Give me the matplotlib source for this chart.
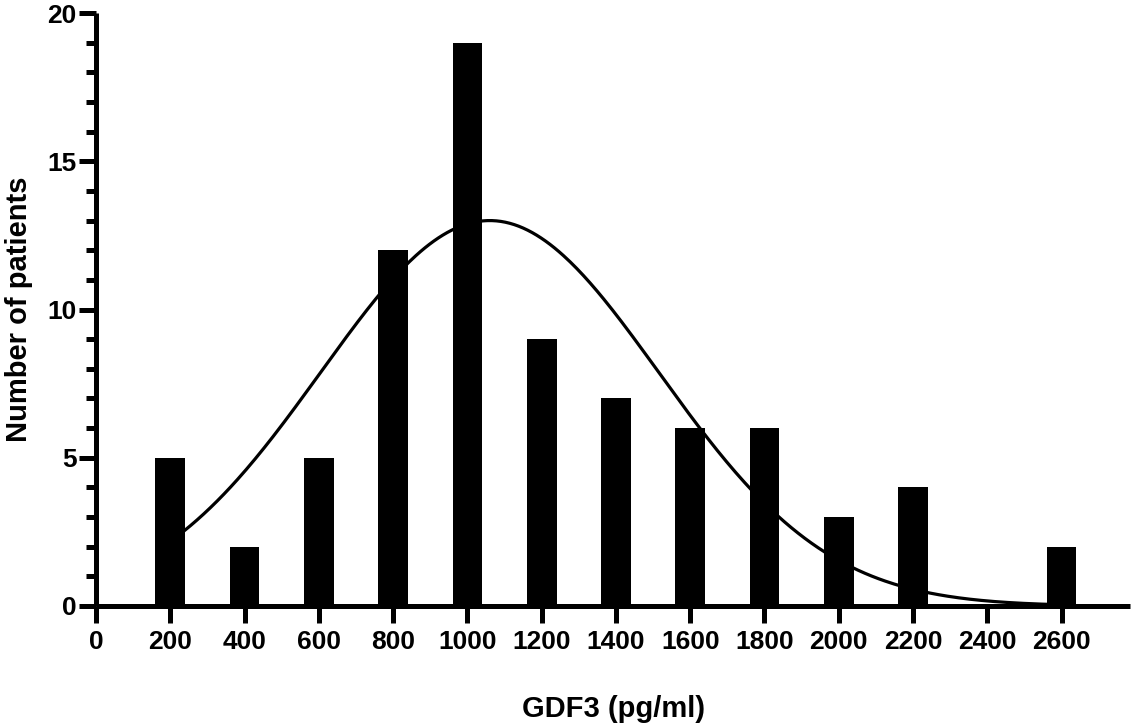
import matplotlib
matplotlib.use("Agg")
import matplotlib.pyplot as plt
import numpy as np

# histogram of GDF3 levels
bin_centres = [200, 400, 600, 800, 1000, 1200, 1400, 1600, 1800, 2000, 2200, 2400, 2600]
counts = [5, 2, 5, 12, 19, 9, 7, 6, 6, 3, 4, 0, 2]

# gaussian fit
fit_amplitude = 13.0
fit_mean = 1060.0
fit_sd = 455.0

plt.rcParams['font.family'] = ['Liberation Sans', 'DejaVu Sans']
plt.rcParams['font.weight'] = 'bold'

fig = plt.figure(figsize=(11.34, 7.24), dpi=100)
ax = fig.add_axes([0.0847, 0.163, 0.912, 0.819])

ax.bar(bin_centres, counts, width=80, color='black', zorder=3)

xs = np.linspace(bin_centres[0], bin_centres[-1], 400)
ys = fit_amplitude * np.exp(-(xs - fit_mean) ** 2 / (2 * fit_sd ** 2))
ax.plot(xs, ys, color='black', lw=2.3, zorder=2)

ax.set_xlim(0, 2785)
ax.set_ylim(0, 20)
ax.set_xticks(range(0, 2601, 200))
ax.set_yticks(range(0, 21, 5))
ax.set_yticks(range(0, 21, 1), minor=True)

for s in ['top', 'right']:
    ax.spines[s].set_visible(False)
for s in ['left', 'bottom']:
    ax.spines[s].set_linewidth(3.6)
    ax.spines[s].set_capstyle('butt')

ax.tick_params(axis='both', which='major', width=3.6, length=12, labelsize=19)
ax.tick_params(axis='x', which='major', pad=5)
ax.tick_params(axis='y', which='major', pad=2)
ax.tick_params(axis='y', which='minor', width=3.6, length=7)

ax.set_xlabel("GDF3 (pg/ml)", fontsize=21, fontweight='bold', labelpad=30)
ax.set_ylabel("Number of patients", fontsize=21, fontweight='bold', labelpad=10)

fig.savefig("out.png", dpi=100)
